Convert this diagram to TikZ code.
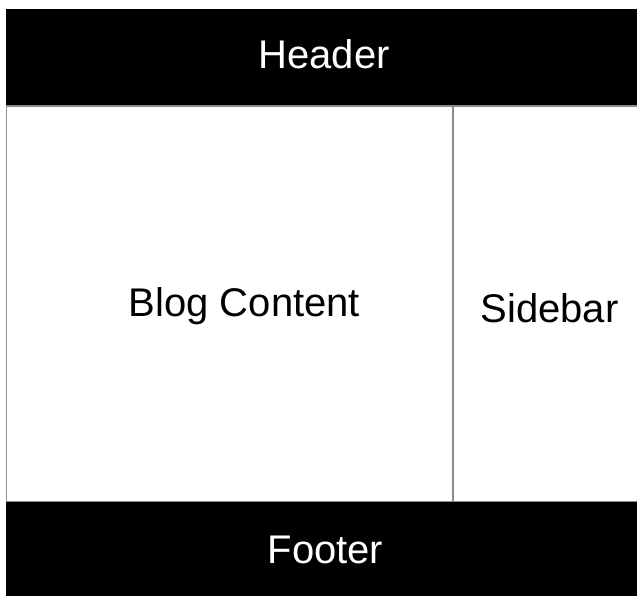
\documentclass[tikz,border=0pt]{standalone}
\usepackage{fontspec}
\setmainfont{Liberation Sans}
\begin{document}
\begin{tikzpicture}[
        x=1pt,
        y=-1pt,
        font=\fontsize{40}{47}\selectfont
    ]
    \tikzset{
        bar/.style = {fill=black},
        pane/.style = {fill=white, draw=gray!90, line width=1.3pt},
        label/.style = {anchor=base, inner sep=0pt},
        labelw/.style = {anchor=base, inner sep=0pt, text=white},
    }
    \useasboundingbox[fill=white] (0,0) rectangle (637,596);
    %
    \fill[bar] (6,9) rectangle (637,106);
    \draw[pane] (6.5,106) rectangle (642,502);
    \fill[bar] (6,502) rectangle (637,596);
    \draw[draw=gray!90, line width=1.3pt] (453,106) -- (453,502);
    %
    \node[labelw] at (324,69) (header) {Header};
    \node[label] at (244.5,316) (blog) {Blog Content};
    \node[label] at (549.5,322) (sidebar) {Sidebar};
    \node[labelw] at (325.5,563) (footer) {Footer};
\end{tikzpicture}
\end{document}
